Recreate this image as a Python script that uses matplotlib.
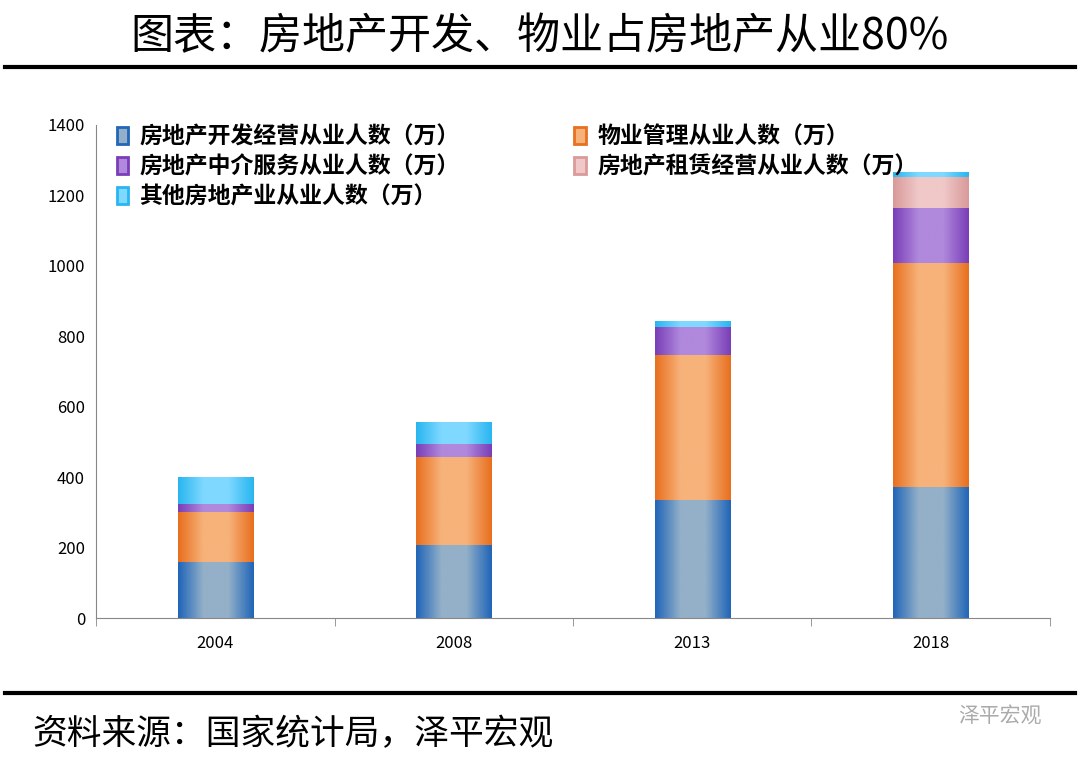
import matplotlib
matplotlib.use("Agg")
import matplotlib.pyplot as plt
import numpy as np
from matplotlib.patches import Patch
from matplotlib.colors import LinearSegmentedColormap

plt.rcParams['font.family'] = ['Noto Sans CJK SC', 'DejaVu Sans']

years = ["2004", "2008", "2013", "2018"]
series_names = ["房地产开发经营从业人数（万）", "物业管理从业人数（万）", "房地产中介服务从业人数（万）",
                "房地产租赁经营从业人数（万）", "其他房地产业从业人数（万）"]
dev = [159, 207, 335, 372]
prop = [142, 250, 412, 636]
agency = [23, 37, 79, 156]
rental = [0, 0, 0, 88]
other = [74, 60, 17, 12]
series = [dev, prop, agency, rental, other]
edge_cols = ["#2166b8", "#e8701f", "#7a3fb8", "#d99a9a", "#29b6f0"]
mid_cols = ["#93b0c8", "#f7b27a", "#b088dc", "#f0c8c8", "#7fd8ff"]

fig = plt.figure(figsize=(10.8, 7.65), dpi=100)
ax = fig.add_axes([0.089, 0.192, 0.883, 0.645])
x = np.arange(len(years))
w = 0.315
bottom = np.zeros(len(years))
for vals, ec, mc in zip(series, edge_cols, mid_cols):
    cmap = LinearSegmentedColormap.from_list("g", [ec, mc, mc, ec])
    grad = np.linspace(0, 1, 64).reshape(1, -1)
    for i, v in enumerate(vals):
        if v <= 0:
            continue
        ax.imshow(grad, cmap=cmap, aspect='auto', interpolation='bilinear',
                  extent=[x[i] - w / 2, x[i] + w / 2, bottom[i], bottom[i] + v], zorder=2)
    bottom += np.array(vals)

ax.set_xlim(-0.5, len(years) - 0.5)
ax.set_ylim(0, 1400)
ax.set_yticks(range(0, 1401, 200))
ax.set_xticks(x)
ax.set_xticklabels(years)
ax.set_xticks(np.arange(-0.5, len(years), 1), minor=True)
ax.tick_params(axis='x', which='major', length=0, pad=12, labelsize=12)
ax.tick_params(axis='x', which='minor', length=6, color='#888888')
ax.tick_params(axis='y', labelsize=12, length=0, pad=8)
for s in ['top', 'right']:
    ax.spines[s].set_visible(False)
ax.spines['left'].set_color('#888888')
ax.spines['bottom'].set_color('#888888')

handles = [Patch(facecolor=mc, edgecolor=ec, linewidth=2) for ec, mc in zip(edge_cols, mid_cols)]
order = [0, 2, 4, 1, 3]
leg = ax.legend([handles[i] for i in order], [series_names[i] for i in order], ncol=2,
                loc='upper left', bbox_to_anchor=(0.0, 1.04),
                frameon=False, prop={'size': 16.5, 'weight': 'bold'}, handlelength=0.5,
                handleheight=0.8, columnspacing=5.0, labelspacing=0.3, handletextpad=0.5)

fig.text(0.5, 0.952, "图表：房地产开发、物业占房地产从业80%", ha='center', va='center', fontsize=31,
         fontweight='light')
fig.add_artist(plt.Line2D([0.005, 0.995], [0.913, 0.913], color='black', lw=3))
fig.add_artist(plt.Line2D([0.005, 0.995], [0.094, 0.094], color='black', lw=3))
fig.text(0.03, 0.04, "资料来源：国家统计局，泽平宏观", ha='left', va='center', fontsize=25,
         fontweight='light')
fig.text(0.965, 0.063, "泽平宏观", ha='right', va='center', fontsize=15, color='#aaaaaa')
fig.savefig("out.png", dpi=100)
